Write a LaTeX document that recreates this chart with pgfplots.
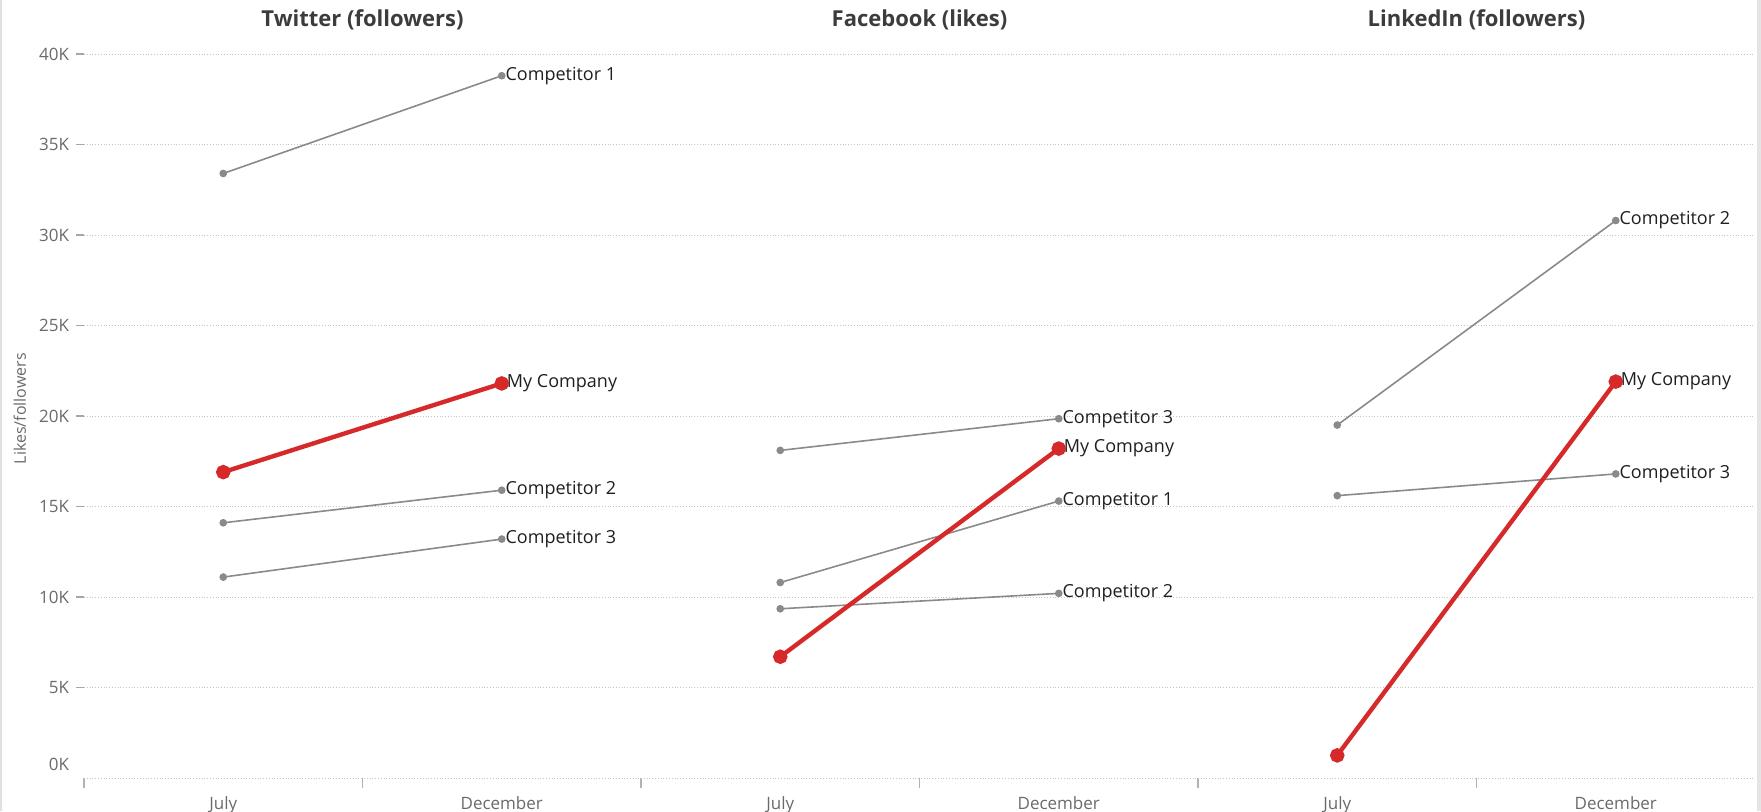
\documentclass[border=0pt]{standalone}
\usepackage{fontspec}
\setmainfont{Open Sans}
\usepackage{pgfplots}
\pgfplotsset{compat=1.18}

\definecolor{rival}{HTML}{8A8A8A}
\definecolor{mine}{HTML}{D62A2A}
\definecolor{gridc}{HTML}{C4C4C4}
\definecolor{tickc}{HTML}{6A6A6A}
\definecolor{titlec}{HTML}{3C3C3C}

\tikzset{
  lab/.style={anchor=west, inner sep=1pt, xshift=0.5pt,
    font=\fontsize{9}{11}\selectfont, text=black!88},
}

\pgfplotsset{
  panel/.style={
    scale only axis, width=278.5pt, height=362pt,
    anchor=south west,
    xmin=-0.5, xmax=1.5, ymin=0, ymax=40000,
    scaled y ticks=false,
    clip=false,
    axis line style={draw=none},
    xtick pos=bottom, ytick pos=left,
    tick align=outside,
    xtick={0,1}, xticklabels={July,December},
    major x tick style={draw=none},
    minor x tick style={draw=black!30, line width=0.6pt},
    minor tick length=5pt,
    major tick length=4pt,
    ytick={5000,10000,...,40000},
    ymajorgrids,
    grid style={gridc, densely dotted, line width=0.5pt},
    xticklabel style={font=\fontsize{8.5}{10}\selectfont, text=tickc, yshift=-2pt},
    yticklabel style={font=\fontsize{8.5}{10}\selectfont, text=tickc},
    title style={font=\bfseries\fontsize{11}{13}\selectfont, text=titlec,
      at={(axis description cs:0.5,1)}, anchor=center, yshift=11pt},
    extra y ticks={0},
    extra y tick style={grid=major, major y tick style={draw=none},
      yticklabel style={yshift=7pt}},
  },
  rivalline/.style={rival, line width=0.8pt, mark=*, mark size=1.5pt},
  mineline/.style={mine, line width=2.2pt, mark=*, mark size=2.5pt},
}

\begin{document}
\begin{tikzpicture}
\path[use as bounding box] (0,0) rectangle (880.5pt,405.5pt);
\draw[black!12, line width=1pt] (0.6pt,0) -- (0.6pt,405.5pt);
\fill[black!10] (878.3pt,0) rectangle (880.5pt,405.5pt);

% Twitter
\begin{axis}[panel, at={(42pt,16.5pt)},
  title={Twitter (followers)},
  minor xtick={-0.5,0.5,1.5},
  yticklabels={5K,10K,15K,20K,25K,30K,35K,40K},
  extra y tick labels={0K},
  major y tick style={draw=black!35, line width=0.6pt},
  ylabel={Likes/followers},
  every axis y label/.style={at={(axis description cs:-0.115,0.51)}, rotate=90,
    anchor=center, font=\fontsize{8}{10}\selectfont, text=tickc},
]
\addplot[rivalline] coordinates {(0,33400) (1,38800)} node[lab, pos=1] {Competitor 1};
\addplot[rivalline] coordinates {(0,14100) (1,15900)} node[lab, pos=1] {Competitor 2};
\addplot[rivalline] coordinates {(0,11100) (1,13200)} node[lab, pos=1] {Competitor 3};
\addplot[mineline] coordinates {(0,16900) (1,21800)} node[lab, pos=1] {My Company};
\end{axis}

% Facebook
\begin{axis}[panel, at={(320.5pt,16.5pt)},
  title={Facebook (likes)},
  minor xtick={0.5,1.5},
  yticklabels={}, extra y tick labels={},
  major y tick style={draw=none},
]
\addplot[rivalline] coordinates {(0,18100) (1,19850)} node[lab, pos=1] {Competitor 3};
\addplot[rivalline] coordinates {(0,10800) (1,15300)} node[lab, pos=1] {Competitor 1};
\addplot[rivalline] coordinates {(0,9350) (1,10200)} node[lab, pos=1] {Competitor 2};
\addplot[mineline] coordinates {(0,6700) (1,18200)} node[lab, pos=1] {My Company};
\end{axis}

% LinkedIn
\begin{axis}[panel, at={(599pt,16.5pt)},
  title={LinkedIn (followers)},
  minor xtick={-0.5,0.5},
  yticklabels={}, extra y tick labels={},
  major y tick style={draw=none},
]
\addplot[rivalline] coordinates {(0,19500) (1,30800)} node[lab, pos=1] {Competitor 2};
\addplot[rivalline] coordinates {(0,15600) (1,16800)} node[lab, pos=1] {Competitor 3};
\addplot[mineline] coordinates {(0,1250) (1,21900)} node[lab, pos=1] {My Company};
\end{axis}
\end{tikzpicture}
\end{document}
